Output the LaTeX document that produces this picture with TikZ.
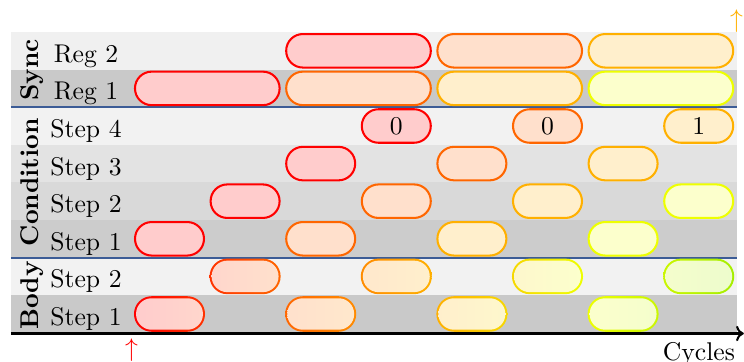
\documentclass[tikz,border=0pt]{standalone}
\usetikzlibrary{arrows.meta}
\definecolor{c0}{RGB}{255,0,0}
\definecolor{c1}{RGB}{255,102,0}
\definecolor{c2}{RGB}{255,176,0}
\definecolor{c3}{RGB}{238,255,0}
\definecolor{c4}{RGB}{165,238,0}
\colorlet{m01}{c0!50!c1}
\colorlet{m12}{c1!50!c2}
\colorlet{m23}{c2!50!c3}
\colorlet{m34}{c3!50!c4}
\definecolor{sepblue}{RGB}{60,92,150}
\begin{document}
\begin{tikzpicture}[x=0.39pt,y=-0.39pt,
  pbox/.style={rectangle, rounded corners=6.5pt, minimum height=13.07pt, minimum width=26.9pt, line width=0.8pt, inner sep=0pt},
  wide/.style={minimum width=56.4pt},
  gout/.style={rectangle, rounded corners=6.9pt, minimum height=13.87pt, minimum width=27.7pt, inner sep=0pt},
  gin/.style={rectangle, rounded corners=6.1pt, minimum height=12.27pt, minimum width=26.1pt, inner sep=0pt},
  rowlabel/.style={anchor=base, inner sep=0pt},
  grouplabel/.style={rotate=90, anchor=base, font=\bfseries, inner sep=0pt},
  sepline/.style={draw=sepblue, line width=0.8pt}]
\useasboundingbox (0,0) rectangle (744,362);
% row backgrounds
\foreach \t/\g in {32/6, 69.6/21, 107.2/5, 144.8/11, 182.4/15, 220/20, 257.6/5, 295.2/21}
  \fill[black!\g] (11,\t) rectangle ({737},{\t+37.6});
% separators
\coordinate (s1a) at (11,107.2); \coordinate (s1b) at (737,107.2);
\coordinate (s2a) at (11,257.6); \coordinate (s2b) at (737,257.6);
\draw[sepline] (s1a) -- (s1b);
\draw[sepline] (s2a) -- (s2b);
% axis
\coordinate (ax0) at (11,333.5); \coordinate (ax1) at (743.8,333.5);
\draw[line width=0.8pt, -{To[length=3pt,width=6pt]}] (ax0) -- (ax1);
\node[anchor=north east, inner sep=0pt] (cycles) at (735.5,341.5) {Cycles};
% group labels
\node[grouplabel] (gsync) at (38,69.8) {Sync};
\node[grouplabel] (gcond) at (38.5,182.4) {Condition};
\node[grouplabel] (gbody) at (38.5,295.5) {Body};
% row labels
\node[rowlabel] (lreg2) at (86,62.3) {Reg 2};
\node[rowlabel] (lreg1) at (86,99.9) {Reg 1};
\node[rowlabel] (lc4) at (86,137.5) {Step 4};
\node[rowlabel] (lc3) at (86,175.1) {Step 3};
\node[rowlabel] (lc2) at (86,212.7) {Step 2};
\node[rowlabel] (lc1) at (86,250.3) {Step 1};
\node[rowlabel] (lb2) at (86,287.9) {Step 2};
\node[rowlabel] (lb1) at (86,325.5) {Step 1};
% Sync
\foreach \i/\c [count=\k] in {2/c0,4/c1,6/c2}
  \node[pbox, wide, draw=\c, fill=\c!20] (reg2-\k) at ({207.3+75.6*\i},50.8) {};
\foreach \i/\c [count=\k] in {0/c0,2/c1,4/c2,6/c3}
  \node[pbox, wide, draw=\c, fill=\c!20] (reg1-\k) at ({207.3+75.6*\i},88.4) {};
% Condition
\foreach \i/\c/\v [count=\k] in {3/c0/0,5/c1/0,7/c2/1}
  \node[pbox, draw=\c, fill=\c!20] (c4-\k) at ({169.5+75.6*\i},126) {\v};
\foreach \i/\c [count=\k] in {2/c0,4/c1,6/c2}
  \node[pbox, draw=\c, fill=\c!20] (c3-\k) at ({169.5+75.6*\i},163.6) {};
\foreach \i/\c [count=\k] in {1/c0,3/c1,5/c2,7/c3}
  \node[pbox, draw=\c, fill=\c!20] (c2-\k) at ({169.5+75.6*\i},201.2) {};
\foreach \i/\c [count=\k] in {0/c0,2/c1,4/c2,6/c3}
  \node[pbox, draw=\c, fill=\c!20] (c1-\k) at ({169.5+75.6*\i},238.8) {};
% Body (gradients)
\foreach \i/\l/\r [count=\k] in {1/m01/c1,3/m12/c2,5/m23/c3,7/m34/c4} {
  \node[gout, left color=\l, right color=\r] (b2o-\k) at ({169.5+75.6*\i},276.4) {};
  \node[gin, left color=\l!20, right color=\r!20] (b2-\k) at ({169.5+75.6*\i},276.4) {};
}
\foreach \i/\l/\r [count=\k] in {0/c0/m01,2/c1/m12,4/c2/m23,6/c3/m34} {
  \node[gout, left color=\l, right color=\r] (b1o-\k) at ({169.5+75.6*\i},314) {};
  \node[gin, left color=\l!20, right color=\r!20] (b1-\k) at ({169.5+75.6*\i},314) {};
}
% markers
\node[anchor=north, inner sep=0pt, text=c0] (mstart) at (131.5,338) {$\uparrow$};
\node[anchor=north, inner sep=0pt, text=c2] (mend) at (736.5,9.3) {$\uparrow$};
\end{tikzpicture}
\end{document}
